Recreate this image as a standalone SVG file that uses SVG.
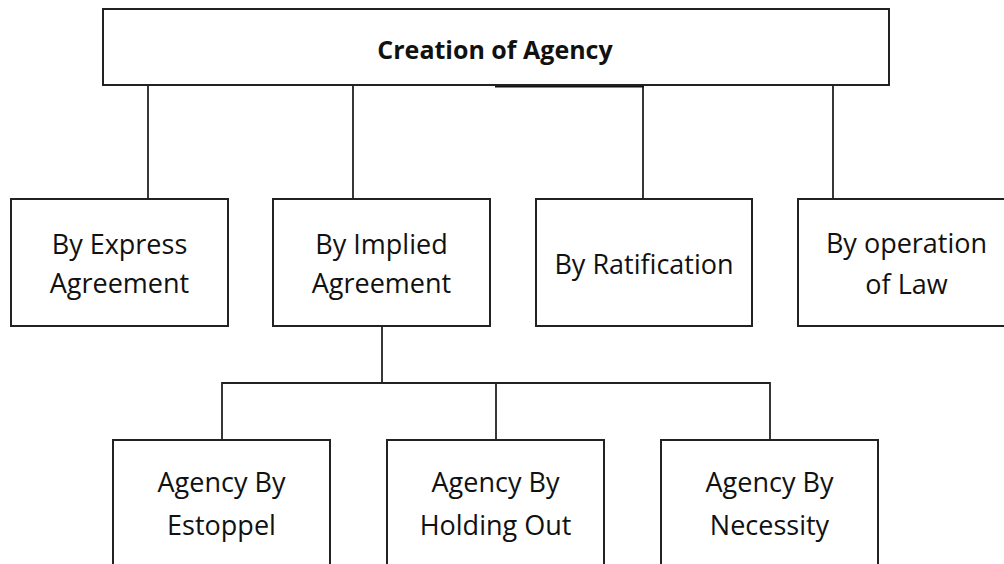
<svg xmlns="http://www.w3.org/2000/svg" width="1004" height="564" viewBox="0 0 1004 564">
  <style>
    .box { fill: #ffffff; stroke: #222222; stroke-width: 2; }
    .link { fill: none; stroke: #222222; stroke-width: 1.8; }
    .label { font-family: "Open Sans", "Noto Sans", sans-serif; font-size: 27px; fill: #111111; text-anchor: middle; }
    .title { font-family: "Open Sans", "Noto Sans", sans-serif; font-size: 25px; font-weight: bold; fill: #111111; text-anchor: middle; }
  </style>
  <rect width="1004" height="564" fill="#ffffff"/>

  <!-- connectors -->
  <g id="connectors">
    <line class="link" x1="148" y1="85" x2="148" y2="199"/>
    <line class="link" x1="353" y1="85" x2="353" y2="199"/>
    <line class="link" x1="643" y1="86" x2="643" y2="199"/>
    <line class="link" x1="833" y1="85" x2="833" y2="199"/>
    <line x1="495" y1="86" x2="644" y2="86" stroke="#111111" stroke-width="3"/>
    <line class="link" x1="382" y1="326" x2="382" y2="383"/>
    <polyline class="link" points="222,440 222,383 770,383 770,440"/>
    <line class="link" x1="496" y1="383" x2="496" y2="440"/>
  </g>

  <!-- root -->
  <g id="creation-of-agency">
    <rect class="box" x="103" y="9" width="786" height="76"/>
    <text class="title" x="495" y="59">Creation of Agency</text>
  </g>

  <!-- second tier -->
  <g id="express-agreement">
    <rect class="box" x="11" y="199" width="217" height="127"/>
    <text class="label" x="119.5" y="254">By Express</text>
    <text class="label" x="119.5" y="293">Agreement</text>
  </g>
  <g id="implied-agreement">
    <rect class="box" x="273" y="199" width="217" height="127"/>
    <text class="label" x="381.5" y="254">By Implied</text>
    <text class="label" x="381.5" y="293">Agreement</text>
  </g>
  <g id="ratification">
    <rect class="box" x="536" y="199" width="216" height="127"/>
    <text class="label" x="644" y="274">By Ratification</text>
  </g>
  <g id="operation-of-law">
    <rect class="box" x="798" y="199" width="217" height="127"/>
    <text class="label" x="906.5" y="253">By operation</text>
    <text class="label" x="906.5" y="294">of Law</text>
  </g>

  <!-- third tier -->
  <g id="estoppel">
    <rect class="box" x="113" y="440" width="217" height="140"/>
    <text class="label" x="221.5" y="492">Agency By</text>
    <text class="label" x="221.5" y="535">Estoppel</text>
  </g>
  <g id="holding-out">
    <rect class="box" x="387" y="440" width="217" height="140"/>
    <text class="label" x="495.5" y="492">Agency By</text>
    <text class="label" x="495.5" y="535">Holding Out</text>
  </g>
  <g id="necessity">
    <rect class="box" x="661" y="440" width="217" height="140"/>
    <text class="label" x="769.5" y="492">Agency By</text>
    <text class="label" x="769.5" y="535">Necessity</text>
  </g>
</svg>
